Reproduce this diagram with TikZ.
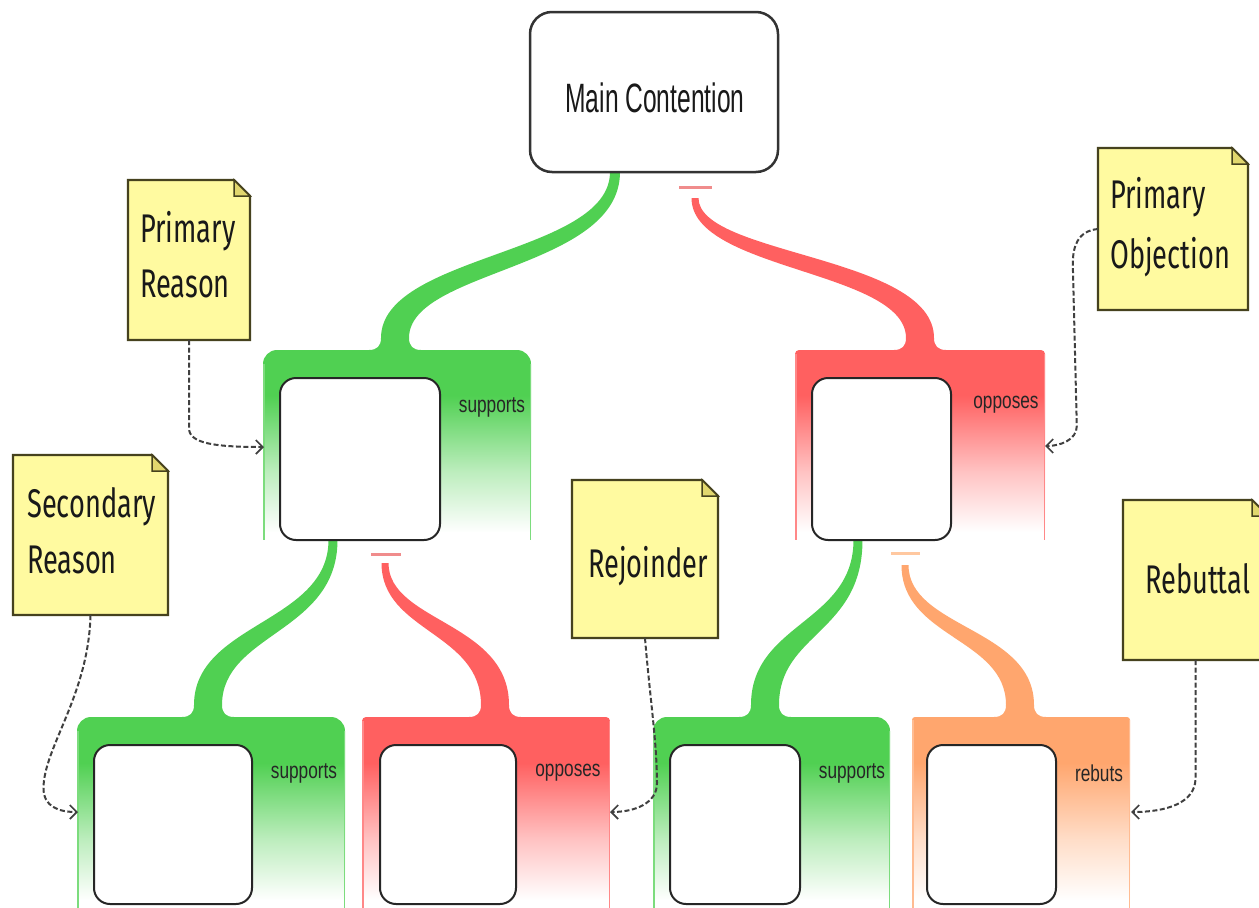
\documentclass[tikz,border=0pt]{standalone}
\usepackage{fontspec}
\setmainfont{Liberation Sans}
\newfontfamily\mcfont[FakeStretch=0.6]{Liberation Sans}
\newfontfamily\labfont[FakeStretch=0.75]{Liberation Sans}
\newfontfamily\notefont[FakeStretch=0.68]{Fira Sans}
\usetikzlibrary{arrows.meta}

\definecolor{cG}{RGB}{80,208,82}
\definecolor{cR}{RGB}{255,96,96}
\definecolor{cO}{RGB}{255,166,110}
\definecolor{barR}{RGB}{240,140,140}
\definecolor{barO}{RGB}{255,200,160}
\definecolor{noteY}{RGB}{255,250,160}
\definecolor{foldY}{RGB}{225,215,110}
\definecolor{noteB}{RGB}{70,66,30}

\pgfdeclareverticalshading{fadeG}{100bp}{color(0bp)=(white); color(27bp)=(white); color(43bp)=(cG!38); color(63bp)=(cG); color(100bp)=(cG)}
\pgfdeclareverticalshading{fadeR}{100bp}{color(0bp)=(white); color(27bp)=(white); color(43bp)=(cR!38); color(63bp)=(cR); color(100bp)=(cR)}
\pgfdeclareverticalshading{fadeO}{100bp}{color(0bp)=(white); color(27bp)=(white); color(43bp)=(cO!38); color(63bp)=(cO); color(100bp)=(cO)}

% tapered S-shaped branch: x0,y0 (top), x1,y1 (foot), ym, sign, colour, thickness offset, top half width
\newcommand\branch[9]{%
  \pgfmathsetmacro\xa{#1-#9}\pgfmathsetmacro\xb{#1+#9}%
  \pgfmathsetmacro\xc{#3-14}\pgfmathsetmacro\xd{#3+14}%
  \pgfmathsetmacro\yl{#5+#6*#8}\pgfmathsetmacro\yr{#5-#6*#8}%
  \fill[#7] (\xa,#2) .. controls (\xa,\yl) and (\xc,\yl) .. (\xc,#4-12)
    .. controls (\xc,#4-4) and (\xc-4,#4) .. (\xc-12,#4) -- (\xc-12,#4+3)
    -- (\xd+12,#4+3) -- (\xd+12,#4) .. controls (\xd+4,#4) and (\xd,#4-4) .. (\xd,#4-12)
    .. controls (\xd,\yr) and (\xb,\yr) .. (\xb,#2) -- cycle;
}
% container: x0,y0,x1,y1,shading,colour,radius
\newcommand\container[7]{%
  \shade[shading=#5] (#1,#4) -- (#1,#2+#7) .. controls (#1,#2+0.45*#7) and (#1+0.45*#7,#2) .. (#1+#7,#2)
    -- (#3-#7,#2) .. controls (#3-0.45*#7,#2) and (#3,#2+0.45*#7) .. (#3,#2+#7) -- (#3,#4) -- cycle;
  \draw[#6!75, line width=1.5] (#1+0.75,#2+#7) -- (#1+0.75,#4);
  \draw[#6!75, line width=1.5] (#3-0.75,#2+#7) -- (#3-0.75,#4);
}
% note: name, x0,y0,x1,y1
\newcommand\note[5]{%
  \node[inner sep=0, minimum width=#4-#2, minimum height=#5-#3] (#1) at ({(#2+#4)/2},{(#3+#5)/2}) {};
  \filldraw[fill=noteY, draw=noteB, line width=2.2, line join=miter] (#2,#3) -- (#4-16,#3) -- (#4,#3+16) -- (#4,#5) -- (#2,#5) -- cycle;
  \filldraw[fill=foldY, draw=noteB, line width=1.5] (#4-16,#3) -- (#4-16,#3+16) -- (#4,#3+16) -- cycle;
}

\tikzset{
  innerbox/.style={draw=black!85, line width=2, fill=white, rounded corners=16, inner sep=0},
  lab/.style={font=\labfont\fontsize{23}{23}\selectfont, text=black!85, inner sep=0},
  notetext/.style={font=\notefont\fontsize{40}{40}\selectfont, text=black!90, inner sep=0, anchor=base west},
  dasharrow/.style={draw=black!75, line width=2, dash pattern=on 5pt off 2.5pt,
    -{Straight Barb[length=7pt,width=14pt,line width=1.7pt]}},
}

\begin{document}
\begin{tikzpicture}[x=1pt,y=-1pt]
\useasboundingbox (0,0) rectangle (1259,908);
\fill[white] (0,0) rectangle (1259,908);
\clip (0,0) rectangle (1259,908);

% branches
\branch{615}{172}{395}{350}{262}{-1}{cG}{7.5}{5}
\branch{695}{198}{920}{350}{263}{1}{cR}{7.5}{3.5}
\branch{333}{540}{208}{717}{628}{-1}{cG}{5}{4.5}
\branch{385}{563}{495}{717}{627}{1}{cR}{5}{3.5}
\branch{858}{540}{765}{717}{628}{-1}{cG}{5}{4.5}
\branch{905}{565}{1020}{717}{633}{1}{cO}{5}{3.5}

% bars
\draw[barR, line width=3] (679,187) -- (712,187);
\draw[barR, line width=3] (371,554) -- (401,554);
\draw[barO, line width=3] (891,553) -- (920,553);

% containers
\container{263}{350}{531}{540}{fadeG}{cG}{14}
\container{795}{350}{1045}{540}{fadeR}{cR}{4}
\container{77}{717}{345}{908}{fadeG}{cG}{14}
\container{362}{717}{610}{908}{fadeR}{cR}{4}
\container{653}{717}{890}{908}{fadeG}{cG}{14}
\container{912}{717}{1130}{908}{fadeO}{cO}{3}

% inner boxes
\node[innerbox, minimum width=160, minimum height=162] (b1) at (360,459) {};
\node[innerbox, minimum width=139, minimum height=162] (b2) at (881.5,459) {};
\node[innerbox, minimum width=158, minimum height=159] (b3) at (173,824.5) {};
\node[innerbox, minimum width=136, minimum height=159] (b4) at (448,824.5) {};
\node[innerbox, minimum width=130, minimum height=159] (b5) at (735,824.5) {};
\node[innerbox, minimum width=129, minimum height=159] (b6) at (991.5,824.5) {};

% labels
\node[lab] (l1) at (492,407) {supports};
\node[lab] (l2) at (1006,405) {opposes};
\node[lab] (l3) at (304,773) {supports};
\node[lab] (l4) at (568,773) {opposes};
\node[lab] (l5) at (852,773) {supports};
\node[lab] (l6) at (1099,773) {rebuts};

% main contention
\node[draw=black!80, line width=2.5, fill=white, rounded corners=22, minimum width=248, minimum height=160, inner sep=0] (mc) at (654,92) {};
\node[font=\mcfont\fontsize{41}{41}\selectfont, text=black!90, inner sep=0] (mct) at (655,98) {Main Contention};

% notes
\note{pr}{128}{180}{250}{340}
\note{po}{1098}{148}{1248}{310}
\note{sr}{13}{455}{168}{615}
\note{rj}{572}{480}{718}{638}
\note{rb}{1123}{500}{1268}{660}

\node[notetext] (pr1) at (140,242) {Primary};
\node[notetext] (pr2) at (140,297) {Reason};
\node[notetext] (po1) at (1110,208) {Primary};
\node[notetext] (po2) at (1110,268) {Objection};
\node[notetext] (sr1) at (27,517) {Secondary};
\node[notetext] (sr2) at (27,573) {Reason};
\node[notetext] (rj1) at (588,577) {Rejoinder};
\node[notetext] (rb1) at (1145,593) {Rebuttal};

% targets
\coordinate (t1) at (264,447);
\coordinate (t2) at (1045,446);
\coordinate (t3) at (78,812);
\coordinate (t4) at (610,812);
\coordinate (t5) at (1131,812);

% dashed connectors
\draw[dasharrow] (pr.south) -- ++(0,88) .. controls ++(0,15) and ++(-50,0) .. (t1);
\draw[dasharrow] (po.west) .. controls ++(-20,2) and ++(0,-18) .. ++(-25,35) -- ++(4,162) .. controls ++(0,14) and ++(15,0) .. (t2);
\draw[dasharrow] (sr.south) .. controls ++(-2,80) and ++(0,-40) .. ++(-47,173) .. controls ++(0,18) and ++(-20,0) .. (t3);
\draw[dasharrow] (rj.south) .. controls ++(5,60) and ++(0,-40) .. ++(12,145) .. controls ++(0,20) and ++(25,0) .. (t4);
\draw[dasharrow] (rb.south) -- ++(0,118) .. controls ++(0,25) and ++(35,0) .. (t5);
\end{tikzpicture}
\end{document}
